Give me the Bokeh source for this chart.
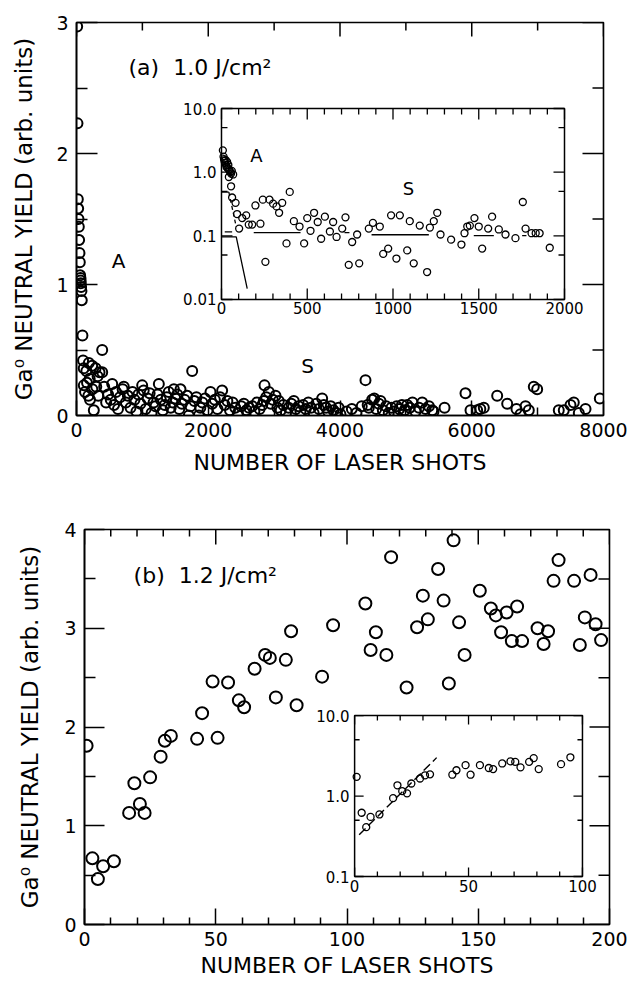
import numpy as np
from bokeh.plotting import figure
from bokeh.layouts import column, row
from bokeh.models import Range1d, FixedTicker, Label
from bokeh.embed import file_html
from bokeh.resources import INLINE
from bokeh.core.properties import value

FONT = "DejaVu Sans"
NB = "\u00a0"

# ---------------- Panel (a): main, 1.0 J/cm2 ----------------
a_shots = [10, 15, 20, 25, 30, 35, 40, 45, 50, 55, 60, 62, 65, 70, 75, 80, 90, 100, 110,
           150, 187, 200, 238, 263, 290, 320, 350, 390, 390, 111, 130, 160, 180, 205, 240, 300, 330,
           420, 450, 480, 520, 542, 570, 600, 630, 660, 700, 718, 750, 780, 820, 850, 880, 910,
           940, 970, 997, 1020, 1050, 1080, 1110, 1140, 1170, 1200, 1230, 1250, 1280, 1310, 1340,
           1370, 1400, 1430, 1460, 1478, 1500, 1530, 1560, 1579, 1600, 1640, 1680, 1705, 1730,
           1756, 1790, 1820, 1857, 1880, 1910, 1950, 1990, 2034, 2060, 2100, 2140, 2180, 2211,
           2250, 2290, 2330, 2370, 2410, 2450, 2500, 2540, 2580, 2620,
           2667, 2700, 2740, 2780, 2820, 2843, 2854, 2880, 2920, 2950, 2980, 3021, 3050, 3071,
           3100, 3140, 3180, 3220, 3260, 3299, 3330, 3370, 3400, 3440, 3480, 3520, 3560, 3600,
           3640, 3680, 3729, 3755, 3790, 3820, 3860, 3900, 3940, 3980, 4007,
           4100, 4180, 4250, 4330, 4387, 4420, 4437, 4488, 4520, 4550, 4590, 4615, 4650, 4700,
           4740, 4780, 4820, 4860, 4900, 4940, 4980, 5020, 5060, 5100, 5146, 5200, 5248, 5300,
           5350, 5400, 5420,
           5587, 5905, 5981, 6082, 6130, 6183, 6386, 6538, 6679, 6740, 6816, 6866, 6942, 6993,
           7321, 7397, 7499, 7549, 7625, 7727, 7944]
a_yield = [2.97, 2.23, 1.65, 1.58, 1.50, 1.44, 1.34, 1.24, 1.17, 1.07, 1.05, 1.03, 1.01, 0.98, 0.95, 0.88, 0.61, 0.42, 0.36,
           0.34, 0.40, 0.28, 0.38, 0.04, 0.36, 0.30, 0.33, 0.50, 0.33, 0.23, 0.18, 0.25, 0.15, 0.12, 0.20, 0.22, 0.15,
           0.22, 0.10, 0.16, 0.12, 0.24, 0.08, 0.18, 0.05, 0.14, 0.20, 0.22, 0.10, 0.15, 0.06, 0.18, 0.12, 0.03,
           0.16, 0.09, 0.23, 0.19, 0.05, 0.13, 0.17, 0.02, 0.10, 0.07, 0.16, 0.24, 0.12, 0.04, 0.08,
           0.14, 0.18, 0.06, 0.10, 0.20, 0.13, 0.16, 0.05, 0.20, 0.09, 0.12, 0.15, 0.00, 0.07,
           0.34, 0.11, 0.14, 0.00, 0.06, 0.10, 0.13, 0.04, 0.18, 0.09, 0.12, 0.05, 0.14, 0.19,
           0.08, 0.11, 0.04, 0.10, 0.06, 0.02, 0.07, 0.09, 0.04, 0.06,
           0.07, 0.03, 0.10, 0.05, 0.08, 0.11, 0.23, 0.14, 0.18, 0.09, 0.12, 0.15, 0.06, 0.11,
           0.04, 0.08, 0.02, 0.06, 0.09, 0.11, 0.05, 0.07, 0.03, 0.08, 0.05, 0.10, 0.06, 0.02,
           0.09, 0.05, 0.13, 0.08, 0.06, 0.03, 0.07, 0.04, 0.02, 0.06, 0.01,
           0.03, 0.05, 0.02, 0.07, 0.27, 0.08, 0.06, 0.12, 0.13, 0.05, 0.09, 0.11, 0.04, 0.07,
           0.02, 0.06, 0.03, 0.07, 0.05, 0.08, 0.04, 0.08, 0.06, 0.10, 0.03, 0.06, 0.10, 0.05,
           0.07, 0.04, 0.03,
           0.06, 0.17, 0.04, 0.04, 0.05, 0.06, 0.15, 0.09, 0.05, 0.01, 0.07, 0.04, 0.22, 0.20,
           0.04, 0.04, 0.08, 0.10, 0.02, 0.05, 0.13]

a_xticks = [0, 2000, 4000, 6000, 8000]
a_xminor = [1000, 3000, 5000, 7000]
a_yticks = [0, 1, 2, 3]
a_yminor = [0.5, 1.5, 2.5]

# Panel (a) inset: log scale, first 2000 shots
ai_shots = [8, 12, 15, 18, 20, 24, 27, 30, 33, 36, 40, 44, 47, 52, 56, 60, 68, 43, 56, 62, 82, 91,
            103, 121, 144, 159, 179, 198, 227, 241, 256, 280, 301, 321, 336, 354, 379, 398, 422,
            455, 482, 500, 519, 540, 561, 581, 603, 632, 651, 671, 704, 723, 742, 762, 791, 803,
            859, 883, 923, 943, 972, 989, 1020, 1040, 1083, 1098, 1121, 1156, 1199, 1215, 1238,
            1258, 1277, 1339, 1399, 1417, 1433, 1448, 1475, 1500, 1520, 1555, 1578, 1617, 1656,
            1714, 1757, 1773, 1808, 1832, 1855, 1914]
ai_yield = [2.2, 1.75, 1.6, 1.5, 1.4, 1.55, 1.3, 1.2, 1.45, 1.15, 1.3, 1.1, 1.05, 1.0, 0.95, 1.05, 0.92, 0.84, 0.60, 0.40, 0.33, 0.22,
            0.13, 0.19, 0.21, 0.15, 0.15, 0.30, 0.155, 0.37, 0.039, 0.37, 0.32, 0.29, 0.23, 0.33, 0.076, 0.49, 0.17,
            0.14, 0.076, 0.19, 0.12, 0.23, 0.165, 0.09, 0.20, 0.117, 0.165, 0.096, 0.13, 0.195, 0.035, 0.08, 0.105, 0.037,
            0.13, 0.16, 0.14, 0.052, 0.063, 0.21, 0.044, 0.21, 0.059, 0.17, 0.037, 0.145, 0.027, 0.135, 0.17,
            0.23, 0.105, 0.087, 0.073, 0.11, 0.14, 0.145, 0.19, 0.14, 0.063, 0.13, 0.20, 0.126, 0.105,
            0.092, 0.34, 0.13, 0.11, 0.11, 0.11, 0.065]
# fitted components drawn in the inset
ai_fitA_x = [0, 43]
ai_fitA_y = [0.485, 0.485]
ai_fitA2_x = [43, 86]
ai_fitA2_y = [0.485, 0.138]
ai_dash_x = [19, 62]
ai_dash_y = [0.115, 0.115]
ai_fitB_x = [0, 86, 150]
ai_fitB_y = [0.096, 0.096, 0.0148]
ai_S_x0 = [188, 717, 875, 1471, 1753]
ai_S_x1 = [461, 746, 1209, 1588, 1778]
ai_S_y = [0.112, 0.112, 0.104, 0.101, 0.101]
ai_xticks = [0, 500, 1000, 1500, 2000]
ai_xlabels = ["0", "500", "1000", "1500", "2000"]
ai_xminor = [100, 200, 300, 400, 600, 700, 800, 900, 1100, 1200, 1300, 1400, 1600, 1700, 1800, 1900]
ai_yticks = [0.01, 0.1, 1.0, 10.0]
ai_ylabels = ["0.01", "0.1", "1.0", "10.0"]
ai_yminor = [0.05, 0.5, 5.0]

# ---------------- Panel (b): main, 1.2 J/cm2 ----------------
b_shots = [0.8, 3.0, 5.1, 7.1, 11.2, 17.0, 19.0, 21.1, 22.9, 25.0, 29.0, 30.6, 32.9, 42.9, 44.8,
           48.8, 50.7, 54.7, 58.8, 60.8, 64.8, 68.8, 70.6, 72.9, 76.7, 78.7, 80.8, 90.5, 94.7,
           107.0, 109.0, 111.0, 115.0, 116.8, 122.7, 126.7, 128.9, 130.8, 134.7, 136.8, 138.8,
           140.6, 142.7, 144.8, 150.6, 154.8, 156.7, 158.7, 160.8, 162.8, 164.8, 166.7, 172.6,
           174.9, 176.6, 178.7, 180.6, 186.5, 188.7, 190.6, 192.8, 194.7, 196.8]
b_yield = [1.81, 0.67, 0.46, 0.59, 0.64, 1.13, 1.43, 1.22, 1.13, 1.49, 1.70, 1.86, 1.91, 1.88, 2.14,
           2.46, 1.89, 2.45, 2.27, 2.20, 2.59, 2.73, 2.70, 2.30, 2.68, 2.97, 2.22, 2.51, 3.03,
           3.25, 2.78, 2.96, 2.73, 3.72, 2.40, 3.01, 3.33, 3.09, 3.60, 3.28, 2.44,
           3.89, 3.06, 2.73, 3.38, 3.20, 3.13, 2.96, 3.16, 2.87, 3.22, 2.87, 3.00,
           2.84, 2.97, 3.48, 3.69, 3.48, 2.83, 3.11, 3.54, 3.04, 2.88]
b_xticks = [0, 50, 100, 150, 200]
b_xminor = [10, 20, 30, 40, 60, 70, 80, 90, 110, 120, 130, 140, 160, 170, 180, 190]
b_yticks = [0, 1, 2, 3, 4]
b_yminor = [0.5, 1.5, 2.5, 3.5]

# Panel (b) inset: log scale, first 100 shots
bi_shots = [0.9, 3.1, 5.1, 7.0, 10.9, 16.9, 18.8, 20.9, 23.0, 24.9, 28.7, 30.9, 33.1, 42.9, 44.7,
            48.7, 50.9, 55.0, 58.9, 60.8, 64.8, 68.4, 70.5, 72.8, 76.6, 78.6, 80.8, 90.6, 94.7]
bi_yield = [1.73, 0.62, 0.41, 0.55, 0.59, 0.94, 1.36, 1.15, 1.08, 1.43, 1.65, 1.81, 1.86, 1.84, 2.09,
            2.42, 1.84, 2.42, 2.23, 2.16, 2.54, 2.69, 2.66, 2.27, 2.66, 2.96, 2.16, 2.49, 3.03]
bi_fit_x = [2, 36]
bi_fit_y = [0.33, 3.0]
bi_xticks = [0, 50, 100]
bi_xlabels = ["0", "50", "100"]
bi_xminor = [10, 20, 30, 40, 60, 70, 80, 90]
bi_yticks = [0.1, 1.0, 10.0]
bi_ylabels = ["0.1", "1.0", "10.0"]
bi_yminor = [0.5, 5.0]


def lg(v):
    """decades for the log-scaled inset coordinate system"""
    return [float(t) for t in np.log10(np.asarray(v, dtype=float))]


def style_axis(ax, major_in, minor_in, standoff):
    ax.major_tick_in = major_in
    ax.major_tick_out = 0
    ax.minor_tick_in = minor_in
    ax.minor_tick_out = 0
    ax.axis_line_color = "black"
    ax.axis_line_width = 1.6
    ax.major_tick_line_width = 1.5
    ax.minor_tick_line_width = 1.5
    ax.major_tick_line_color = "black"
    ax.minor_tick_line_color = "black"
    ax.major_label_text_font = FONT
    ax.major_label_text_color = "black"
    ax.major_label_text_font_size = "19px"
    ax.major_label_standoff = standoff
    ax.axis_label_text_font = FONT
    ax.axis_label_text_font_style = "normal"
    ax.axis_label_text_color = "black"
    ax.axis_label_text_font_size = "22px"


def make_main(xr, yr, fw, fh, bl, br, bt, bb, xt, xm, yt, ym, xtin, ytin, xlab_standoff, ylab_standoff):
    p = figure(frame_width=fw, frame_height=fh, x_range=Range1d(*xr), y_range=Range1d(*yr),
               min_border_left=bl, min_border_right=br, min_border_top=bt, min_border_bottom=bb,
               output_backend="svg", toolbar_location=None)
    p.grid.visible = False
    p.outline_line_color = "black"
    p.outline_line_width = 1.6
    p.background_fill_color = "white"
    p.border_fill_color = "white"
    p.xaxis.ticker = FixedTicker(ticks=xt, minor_ticks=xm)
    p.yaxis.ticker = FixedTicker(ticks=yt, minor_ticks=ym)
    style_axis(p.xaxis[0], xtin[0], xtin[1], 7)
    style_axis(p.yaxis[0], ytin[0], ytin[1], 8)
    p.xaxis.axis_label = "NUMBER OF LASER SHOTS"
    p.xaxis.axis_label_standoff = xlab_standoff
    p.yaxis.axis_label = "Ga\u2070 NEUTRAL YIELD (arb. units)"
    p.yaxis.axis_label_standoff = ylab_standoff
    p.yaxis.axis_label_text_font_size = "23px"
    # mirrored inward ticks on top and right
    kw = dict(length_units="screen", line_color="black", line_width=1.5)
    p.ray(x=xt, y=[yr[1]] * len(xt), length=xtin[0] - 1, angle=-np.pi / 2, **kw)
    p.ray(x=xm, y=[yr[1]] * len(xm), length=xtin[1], angle=-np.pi / 2, **kw)
    p.ray(x=[xr[1]] * len(yt), y=yt, length=ytin[0], angle=np.pi, **kw)
    p.ray(x=[xr[1]] * len(ym), y=ym, length=ytin[1], angle=np.pi, **kw)
    return p


def draw_inset(g, xr, yr, xt, xl, xm, yt, yl, ym, tick_major=11, tick_minor=6, lab="15px"):
    x0, x1 = xr
    y0, y1 = lg(yr)
    g.quad(left=[x0], right=[x1], bottom=[y0], top=[y1], fill_color="white",
           line_color="black", line_width=1.5)
    kw = dict(length_units="screen", line_color="black", line_width=1.3)
    for ticks, ln in ((xt, tick_major), (xm, tick_minor)):
        g.ray(x=ticks, y=[y0] * len(ticks), length=ln, angle=np.pi / 2, **kw)
        g.ray(x=ticks, y=[y1] * len(ticks), length=ln, angle=-np.pi / 2, **kw)
    for ticks, ln in ((yt, tick_major), (ym, tick_minor)):
        g.ray(x=[x0] * len(ticks), y=lg(ticks), length=ln, angle=0, **kw)
        g.ray(x=[x1] * len(ticks), y=lg(ticks), length=ln, angle=np.pi, **kw)
    g.text(x=xt, y=[y0] * len(xt), text=xl, y_offset=3, text_align="center", text_baseline="top",
           text_font=value(FONT), text_font_size=lab, text_color="black")
    g.text(x=[x0] * len(yt), y=lg(yt), text=yl, x_offset=-5, text_align="right", text_baseline="middle",
           text_font=value(FONT), text_font_size=lab, text_color="black")


# ---------- figure (a) ----------
pa = make_main((0, 8000), (0, 3), 527, 393, 76, 26, 22, 65,
               a_xticks, a_xminor, a_yticks, a_yminor, (15, 8), (21, 11), 10, 16)
pa.scatter(a_shots, a_yield, marker="circle", size=10, fill_color=None,
           line_color="black", line_width=2)
pa.add_layout(Label(x=790, y=2.66, text="(a)" + NB + NB + "1.0" + NB + "J/cm\u00b2", text_baseline="middle",
                    text_font=FONT, text_font_size="22px", text_color="black"))
pa.add_layout(Label(x=638, y=1.18, text="A", text_baseline="middle", text_align="center",
                    text_font=FONT, text_font_size="20px", text_color="black"))
pa.add_layout(Label(x=3507, y=0.38, text="S", text_baseline="middle", text_align="center",
                    text_font=FONT, text_font_size="20px", text_color="black"))

ga = pa.subplot(x_source=Range1d(0, 2000), y_source=Range1d(-2, 1),
                x_target=Range1d(2201, 7408), y_target=Range1d(0.8855, 2.3435))
draw_inset(ga, (0, 2000), (0.01, 10), ai_xticks, ai_xlabels, ai_xminor,
           ai_yticks, ai_ylabels, ai_yminor)
ga.scatter(ai_shots, lg(ai_yield), marker="circle", size=7, fill_color=None,
           line_color="black", line_width=1.3)
ga.line(ai_fitA_x, lg(ai_fitA_y), line_color="black", line_width=1.3)
ga.line(ai_fitA2_x, lg(ai_fitA2_y), line_color="black", line_width=1.3, line_dash="4 3")
ga.line(ai_dash_x, lg(ai_dash_y), line_color="black", line_width=1.3)
ga.line(ai_fitB_x, lg(ai_fitB_y), line_color="black", line_width=1.3)
ga.segment(x0=ai_S_x0, y0=lg(ai_S_y), x1=ai_S_x1, y1=lg(ai_S_y), line_color="black", line_width=1.3)
ga.text(x=[204, 1090], y=lg([1.83, 0.55]), text=["A", "S"], text_align="center", text_baseline="middle",
        text_font=value(FONT), text_font_size="18px", text_color="black")

# ---------- figure (b) ----------
pb = make_main((0, 200), (0, 4), 525, 395, 84, 20, 49, 59,
               b_xticks, b_xminor, b_yticks, b_yminor, (16, 7), (20, 11), 4, 18)
pb.scatter(b_shots, b_yield, marker="circle", size=12, fill_color=None,
           line_color="black", line_width=2)
pb.add_layout(Label(x=18.7, y=3.53, text="(b)" + NB + NB + "1.2" + NB + "J/cm\u00b2", text_baseline="middle",
                    text_font=FONT, text_font_size="22px", text_color="black"))

gb = pb.subplot(x_source=Range1d(0, 100), y_source=Range1d(-1, 1),
                x_target=Range1d(102.9, 189.7), y_target=Range1d(0.486, 2.116))
draw_inset(gb, (0, 100), (0.1, 10), bi_xticks, bi_xlabels, bi_xminor,
           bi_yticks, bi_ylabels, bi_yminor, tick_major=9, tick_minor=5)
gb.scatter(bi_shots, lg(bi_yield), marker="circle", size=7, fill_color=None,
           line_color="black", line_width=1.3)
gb.line(bi_fit_x, lg(bi_fit_y), line_color="black", line_width=1.4, line_dash="9 4")

# wrap each panel separately so their frames are not aligned to each other
layout = column(row(pa), row(pb), spacing=0)
open("out.html", "w").write(file_html(layout, INLINE))
